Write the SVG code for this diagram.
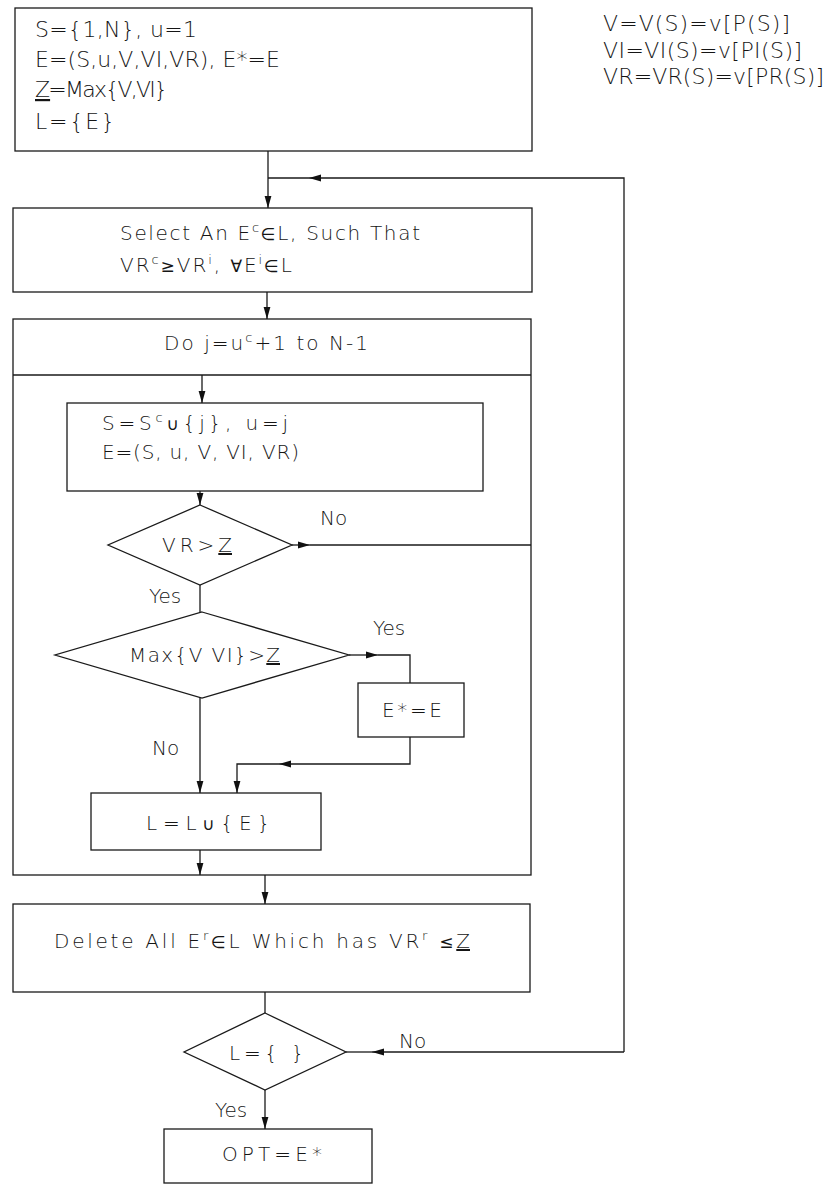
<svg xmlns="http://www.w3.org/2000/svg" width="828" height="1185" viewBox="0 0 828 1185">
<defs>
<marker id="ah" markerUnits="userSpaceOnUse" markerWidth="13" markerHeight="8" refX="12" refY="4" orient="auto"><path d="M0,0.6 L12,4 L0,7.4 z" fill="#111"/></marker>
</defs>
<style>
.box{fill:none;stroke:#1a1a1a;stroke-width:1.3}
.ln{fill:none;stroke:#1a1a1a;stroke-width:1.3}
.t{font-family:"DejaVu Sans","Liberation Sans",sans-serif;font-size:20px;fill:#151515;font-weight:200}
.big{font-size:22px}
.sup{font-size:13px}
.m{font-weight:normal;font-size:17px}
.u{text-decoration:underline}
</style>
<rect width="828" height="1185" fill="#fff"/>

<g id="init">
<rect class="box" x="15" y="8" width="517" height="143"/>
<text class="t big" x="35" y="37" textLength="162" lengthAdjust="spacing">S={1,N}, u=1</text>
<text class="t big" x="35" y="67" textLength="245" lengthAdjust="spacing">E=(S,u,V,VI,VR), E*=E</text>
<text class="t big" x="35" y="97" textLength="133" lengthAdjust="spacing"><tspan class="u">Z</tspan>=Max{V,VI}</text>
<text class="t big" x="35" y="129" textLength="80" lengthAdjust="spacing">L={E}</text>
</g>

<g id="defs-text">
<text class="t big" x="603" y="31" textLength="187" lengthAdjust="spacing">V=V(S)=v[P(S)]</text>
<text class="t big" x="603" y="58" textLength="199" lengthAdjust="spacing">VI=VI(S)=v[PI(S)]</text>
<text class="t big" x="603" y="84" textLength="221" lengthAdjust="spacing">VR=VR(S)=v[PR(S)]</text>
</g>

<g id="select">
<rect class="box" x="13" y="208" width="519" height="84"/>
<text class="t" x="120" y="240" textLength="300" lengthAdjust="spacing">Select An E<tspan class="sup" dy="-8">c</tspan><tspan class="m" dy="8">∈</tspan>L, Such That</text>
<text class="t" x="120" y="272" textLength="172" lengthAdjust="spacing">VR<tspan class="sup" dy="-8">c</tspan><tspan class="m" dy="8">≥</tspan>VR<tspan class="sup" dy="-8">i</tspan><tspan dy="8">, </tspan><tspan class="m">∀</tspan>E<tspan class="sup" dy="-8">i</tspan><tspan class="m" dy="8">∈</tspan>L</text>
</g>

<g id="loop">
<rect class="box" x="13" y="319" width="518" height="556"/>
<line class="ln" x1="13" y1="375" x2="531" y2="375"/>
<text class="t" x="164" y="350" textLength="204" lengthAdjust="spacing">Do j=u<tspan class="sup" dy="-8">c</tspan><tspan dy="8">+1 to N-1</tspan></text>
</g>

<g id="update">
<rect class="box" x="67" y="403" width="416" height="88"/>
<text class="t" x="102" y="430" textLength="186" lengthAdjust="spacing">S=S<tspan class="sup" dy="-8">c</tspan><tspan class="m" dy="8">∪</tspan>{j},  u=j</text>
<text class="t" x="102" y="459" textLength="197" lengthAdjust="spacing">E=(S, u, V, VI, VR)</text>
</g>

<g id="test-vr">
<polygon class="box" points="200,505 292,545 200,585 108,545"/>
<text class="t" x="162" y="552" textLength="70" lengthAdjust="spacing">VR&gt;<tspan class="u">Z</tspan></text>
</g>

<g id="test-max">
<polygon class="box" points="202,612 349,655 202,698 55,655"/>
<text class="t" x="129" y="662" textLength="151" lengthAdjust="spacing">Max{V VI}&gt;<tspan class="u">Z</tspan></text>
</g>

<g id="best">
<rect class="box" x="358" y="683" width="106" height="54"/>
<text class="t" x="382" y="717" textLength="60" lengthAdjust="spacing">E*=E</text>
</g>

<g id="append">
<rect class="box" x="91" y="793" width="230" height="57"/>
<text class="t" x="146" y="830" textLength="124" lengthAdjust="spacing">L=L<tspan class="m">∪</tspan>{E}</text>
</g>

<g id="delete">
<rect class="box" x="13" y="904" width="517" height="88"/>
<text class="t" x="54" y="948" textLength="416" lengthAdjust="spacing">Delete All E<tspan class="sup" dy="-8">r</tspan><tspan class="m" dy="8">∈</tspan>L Which has VR<tspan class="sup" dy="-8">r</tspan><tspan dy="8"> </tspan><tspan class="m">≤</tspan><tspan class="u">Z</tspan></text>
</g>

<g id="test-empty">
<polygon class="box" points="265,1013 346,1052 265,1090 184,1052"/>
<text class="t" x="229" y="1060" textLength="75" lengthAdjust="spacing">L={ }</text>
</g>

<g id="opt">
<rect class="box" x="164" y="1129" width="208" height="54"/>
<text class="t" x="222" y="1161" textLength="100" lengthAdjust="spacing">OPT=E*</text>
</g>

<g id="connectors">
<path class="ln" d="M268,151 V208" marker-end="url(#ah)"/>
<path class="ln" d="M624,1052 H372" marker-end="url(#ah)"/>
<path class="ln" d="M372,1052 H346"/>
<path class="ln" d="M624,1052 V178 H309" marker-end="url(#ah)"/>
<path class="ln" d="M309,178 H268"/>
<path class="ln" d="M267,292 V319" marker-end="url(#ah)"/>
<path class="ln" d="M202,375 V403" marker-end="url(#ah)"/>
<path class="ln" d="M200,491 V505" marker-end="url(#ah)"/>
<path class="ln" d="M292,545 H310" marker-end="url(#ah)"/>
<path class="ln" d="M310,545 H531"/>
<path class="ln" d="M200,585 V612"/>
<path class="ln" d="M349,655 H378" marker-end="url(#ah)"/>
<path class="ln" d="M378,655 H410 V683"/>
<path class="ln" d="M410,737 V764 H279" marker-end="url(#ah)"/>
<path class="ln" d="M279,764 H237 V793" marker-end="url(#ah)"/>
<path class="ln" d="M200,698 V793" marker-end="url(#ah)"/>
<path class="ln" d="M200,850 V875" marker-end="url(#ah)"/>
<path class="ln" d="M265,875 V904" marker-end="url(#ah)"/>
<path class="ln" d="M265,992 V1013"/>
<path class="ln" d="M265,1090 V1129" marker-end="url(#ah)"/>
<text class="t" x="320" y="525">No</text>
<text class="t" x="149" y="603">Yes</text>
<text class="t" x="373" y="635">Yes</text>
<text class="t" x="152" y="755">No</text>
<text class="t" x="399" y="1048">No</text>
<text class="t" x="215" y="1117">Yes</text>
</g>
</svg>
